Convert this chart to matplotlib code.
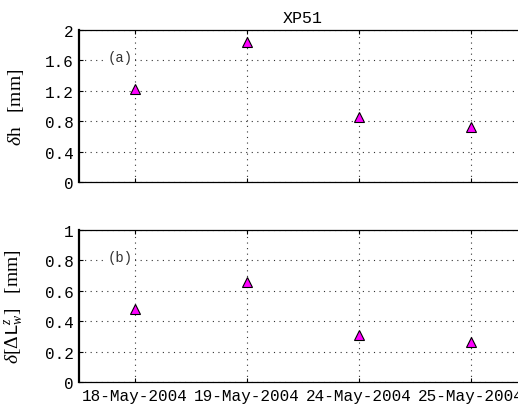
import matplotlib
matplotlib.use("Agg")
import matplotlib.pyplot as plt

# Survey dates and measured uncertainties
dates = ["18-May-2004", "19-May-2004", "24-May-2004", "25-May-2004"]
dh_mm = [1.23, 1.84, 0.855, 0.72]
dlw_mm = [0.477, 0.655, 0.31, 0.266]
yticks_a = [0, 0.4, 0.8, 1.2, 1.6, 2]
yticks_b = [0, 0.2, 0.4, 0.6, 0.8, 1]

plt.rcParams["mathtext.fontset"] = "custom"
plt.rcParams["mathtext.rm"] = "Liberation Serif"
plt.rcParams["mathtext.it"] = "Liberation Serif:italic"
plt.rcParams["mathtext.tt"] = "Liberation Mono"

mono = "Liberation Mono"
serif = "Liberation Serif"

fig = plt.figure(figsize=(5.18, 4.06), dpi=100)
ax_a = fig.add_axes([79 / 518, (406 - 183) / 406, 448 / 518, 152 / 406])
ax_b = fig.add_axes([79 / 518, (406 - 383) / 406, 448 / 518, 152 / 406])

x = list(range(1, len(dates) + 1))


def style(ax, yticks, ylim):
    ax.set_xlim(0.5, len(dates) + 0.5)
    ax.set_ylim(*ylim)
    ax.set_xticks(x)
    ax.set_yticks(yticks)
    ax.set_yticklabels([f"{v:g}" for v in yticks], fontfamily=mono, fontsize=11.5)
    ax.grid(True, linestyle=(0, (1, 4)), color="#333333", linewidth=0.8)
    ax.tick_params(direction="in", length=3, top=True, right=True, width=0.8,
                   pad=4)
    for s in ["top", "bottom", "right"]:
        ax.spines[s].set_linewidth(0.9)
    ax.spines["left"].set_linewidth(1.6)
    ax.set_axisbelow(True)


style(ax_a, yticks_a, (0, 2))
style(ax_b, yticks_b, (0, 1))

ax_a.plot(x, dh_mm, linestyle="none", marker="^", markersize=7.5,
          markerfacecolor="magenta", markeredgecolor="black", markeredgewidth=0.8,
          zorder=3)
ax_b.plot(x, dlw_mm, linestyle="none", marker="^", markersize=7.5,
          markerfacecolor="magenta", markeredgecolor="black", markeredgewidth=0.8,
          zorder=3)

ax_a.set_xticklabels([])
ax_b.set_xticklabels(dates, fontfamily=mono, fontsize=11.5)

ax_a.set_title("XP51", fontfamily=mono, fontsize=12, pad=6)

ax_a.text(0.76, 1.64, "(a)", fontfamily=mono, fontsize=10, color="#333333",
          va="center", ha="left",
          bbox=dict(facecolor="white", edgecolor="none", pad=1))
ax_b.text(0.76, 0.82, "(b)", fontfamily=mono, fontsize=10, color="#333333",
          va="center", ha="left",
          bbox=dict(facecolor="white", edgecolor="none", pad=1))

ax_a.set_ylabel(r"$\delta$h   [mm]", fontfamily=serif, fontsize=14)
ax_b.set_ylabel(r"$\delta[\Delta\mathtt{L}_w^z]$   [mm]", fontfamily=serif, fontsize=14)
ax_a.yaxis.set_label_coords(-0.118, 0.5)
ax_b.yaxis.set_label_coords(-0.118, 0.5)

fig.savefig("out.png", dpi=100)
